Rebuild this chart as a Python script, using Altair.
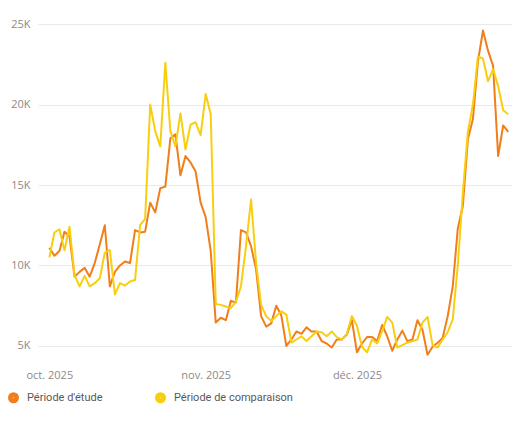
import altair as alt
import pandas as pd

# Daily dates, 1 Oct 2025 -> 31 Dec 2025
dates = pd.date_range("2025-10-01", "2025-12-31", freq="D").strftime("%Y-%m-%d").tolist()

# Période d'étude (orange)
etude = [11100, 10600, 10900, 12100, 11800, 9300, 9600, 9850, 9300, 10150,
         11300, 12500, 8700, 9600, 10000, 10250, 10150, 12200, 12050, 12100,
         13900, 13300, 14800, 14900, 17900, 18150, 15600, 16800, 16400, 15850,
         13900, 13000, 10900, 6450, 6750, 6600, 7800, 7700, 12200, 12050,
         11200, 9750, 6850, 6200, 6400, 7500, 6900, 5000, 5400, 5900,
         5750, 6150, 5900, 5900, 5300, 5150, 4900, 5400, 5400, 5700,
         6600, 4600, 5150, 5550, 5550, 5300, 6300, 5600, 4700, 5400,
         5950, 5300, 5400, 6600, 6000, 4450, 4950, 5200, 5500, 6850,
         8700, 12300, 13700, 17850, 19100, 22700, 24600, 23350, 22400, 16800,
         18700, 18300]

# Période de comparaison (jaune)
comparaison = [10500, 12050, 12250, 10950, 12400, 9400, 8700, 9350, 8700, 8900,
               9200, 10800, 10950, 8200, 8900, 8750, 9000, 9100, 12500, 12900,
               20000, 18350, 17400, 22600, 18350, 17400, 19450, 17200, 18750, 18900,
               18100, 20650, 19400, 7600, 7550, 7450, 7350, 7750, 8700, 11200,
               14100, 10150, 7550, 6850, 6550, 6850, 7150, 6950, 5200, 5400,
               5600, 5300, 5600, 5900, 5850, 5600, 5900, 5550, 5400, 5750,
               6850, 6250, 4950, 4600, 5400, 5150, 5900, 6800, 6450, 4900,
               5050, 5200, 5300, 5400, 6450, 6800, 5050, 4900, 5400, 5850,
               6650, 10000, 14500, 18300, 20000, 23000, 22850, 21450, 22200, 21150,
               19650, 19400]

series_names = ["Période d'étude", "Période de comparaison"]
colors = ["#F07E1B", "#F8CF0E"]
y_ticks = [5000, 10000, 15000, 20000, 25000]

rows = []
for name, vals in zip(series_names, [etude, comparaison]):
    for d, v in zip(dates, vals):
        rows.append({"date": d, "value": v, "serie": name})
df = pd.DataFrame(rows)

month_expr = ("['janv.','févr.','mars','avr.','mai','juin','juil.','août','sept.','oct.','nov.','déc.']"
              "[utcmonth(datum.value)] + ' ' + utcyear(datum.value)")

chart = alt.Chart(df).mark_line(strokeWidth=2, strokeJoin="round").encode(
    x=alt.X(
        "date:T",
        scale=alt.Scale(
            type="utc",
            domain=[alt.DateTime(year=2025, month=9, date=28, hours=18, utc=True),
                    alt.DateTime(year=2025, month=12, date=31, hours=18, utc=True)],
        ),
        axis=alt.Axis(
            values=[alt.DateTime(year=2025, month=10, date=1, utc=True),
                    alt.DateTime(year=2025, month=11, date=1, utc=True),
                    alt.DateTime(year=2025, month=12, date=1, utc=True)],
            labelExpr=month_expr,
            grid=False, domain=False, ticks=False, title=None,
            labelColor="#8a8a8a", labelFontSize=11, labelPadding=7,
        ),
    ),
    y=alt.Y(
        "value:Q",
        scale=alt.Scale(domain=[4000, 26000], nice=False, zero=False),
        axis=alt.Axis(
            values=y_ticks, labelExpr="(datum.value / 1000) + 'K'",
            domain=False, ticks=False, title=None,
            gridColor="#e9e9e9", labelColor="#8a8a8a", labelFontSize=11,
            labelPadding=8, minExtent=30, maxExtent=30,
        ),
    ),
    color=alt.Color(
        "serie:N",
        scale=alt.Scale(domain=series_names, range=colors),
        legend=alt.Legend(
            orient="none", legendX=-30, legendY=384, direction="horizontal",
            title=None, symbolType="circle", symbolSize=36, symbolStrokeWidth=5,
            labelFont="Roboto", labelFontSize=11, labelColor="#595959",
            labelOffset=8, columnPadding=44, padding=0,
        ),
    ),
).properties(width=474, height=354).configure(
    font="Open Sans", padding=0
).configure_view(stroke=None)

chart.save("out.html", embed_options={"renderer": "svg", "actions": False})
